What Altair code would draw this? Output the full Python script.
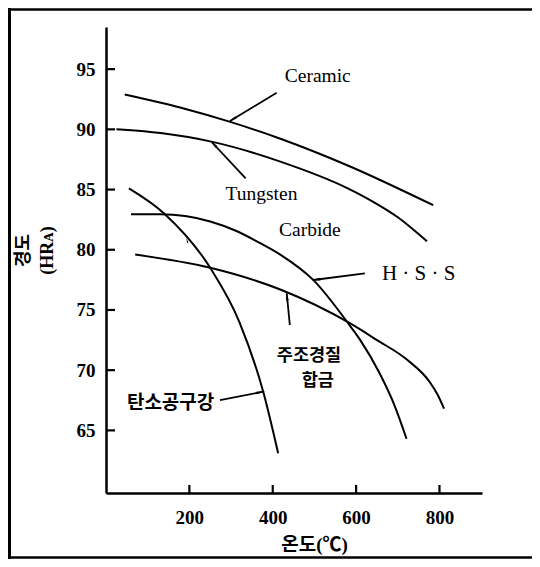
import math
import altair as alt
import pandas as pd

# ---------------- data ----------------
temp_ticks = [200, 400, 600, 800]
hard_ticks = [65, 70, 75, 80, 85, 90, 95]

ceramic_t = [45, 180, 300, 420, 580, 785]
ceramic_h = [92.9, 91.8, 90.6, 89.2, 87.0, 83.7]

tungsten_t = [25, 140, 250, 420, 580, 640, 700, 770]
tungsten_h = [90.0, 89.65, 89.0, 87.3, 85.1, 84.0, 82.7, 80.7]

carbon_t = [55, 140, 250, 320, 378, 413]
carbon_h = [85.1, 83.0, 78.5, 74.0, 68.1, 63.1]

hss_t = [60, 130, 190, 250, 310, 370, 418, 497, 585, 610, 657, 693, 721]
hss_h = [82.95, 82.95, 82.8, 82.35, 81.6, 80.55, 79.6, 77.5, 73.7, 72.5, 69.7, 67.0, 64.3]

cast_t = [70, 250, 418, 585, 650, 721, 777, 795, 811]
cast_h = [79.6, 78.5, 76.7, 73.9, 72.5, 70.9, 69.0, 68.0, 66.8]

# annotation labels
eng_labels = ["Ceramic", "Tungsten", "Carbide"]
eng_t = [508, 373, 489]
eng_h = [94.4, 84.6, 81.6]

hss_label = ["H · S · S"]
hss_label_t = [750]
hss_label_h = [78.0]

kor_labels = ["주조경질", "합금"]
kor_t = [487, 508]
kor_h = [71.2, 69.1]

carbon_label = ["탄소공구강"]
carbon_label_t = [155]
carbon_label_h = [67.3]

# arrows (tail -> tip)
arrow_tail_t = [409.5, 335, 621, 441, 273.5]
arrow_tail_h = [93.04, 85.93, 78.04, 73.75, 67.52]
arrow_tip_t = [297.5, 253.6, 497.3, 433.5, 377.4]
arrow_tip_h = [90.7, 88.95, 77.49, 76.38, 68.21]

# stray mark near the carbon-steel curve
mark_t = [195]
mark_h = [80.7]

# ---------------- layout ----------------
X_DOM = [0, 902]
Y_DOM = [59.8, 98.5]
W, H = 376, 466
sx = W / (X_DOM[1] - X_DOM[0])
sy = H / (Y_DOM[1] - Y_DOM[0])

SERIF = "'Liberation Serif', 'Times New Roman', serif"
KOR = "'Noto Sans CJK KR', sans-serif"
MIXED = "'Liberation Serif', 'Noto Sans CJK KR', serif"

rows = []
for name, ts, hs in [("Ceramic", ceramic_t, ceramic_h), ("Tungsten", tungsten_t, tungsten_h),
                     ("Carbon", carbon_t, carbon_h), ("HSS", hss_t, hss_h), ("Cast", cast_t, cast_h)]:
    for i, (t, h) in enumerate(zip(ts, hs)):
        rows.append({"series": name, "T": t, "H": h, "o": i})
curves = pd.DataFrame(rows)

arrows = pd.DataFrame({"T": arrow_tail_t, "H": arrow_tail_h, "T2": arrow_tip_t, "H2": arrow_tip_h})
heads = []
for t0, h0, t1, h1 in zip(arrow_tail_t, arrow_tail_h, arrow_tip_t, arrow_tip_h):
    dxp = (t1 - t0) * sx
    dyp = (h1 - h0) * sy
    ln = math.hypot(dxp, dyp)
    ang = math.degrees(math.atan2(dxp, dyp)) % 360
    back = 4.0
    heads.append({"T": t1 - dxp / ln * back / sx, "H": h1 - dyp / ln * back / sy, "ang": ang})
heads = pd.DataFrame(heads)

xs = alt.Scale(domain=X_DOM, nice=False, zero=False)
ys = alt.Scale(domain=Y_DOM, nice=False, zero=False)

base_lines = alt.Chart(curves).mark_line(color="black", strokeWidth=2, interpolate="monotone").encode(
    x=alt.X("T:Q", scale=xs, axis=alt.Axis(
        values=temp_ticks, ticks=False, grid=False, labelFont=SERIF, labelFontSize=19,
        labelFontWeight="bold", labelPadding=15, title="온도(℃)", titleFont=MIXED,
        titleFontSize=19, titleFontWeight="bold", titleX=208, titleY=51, titleBaseline="middle")),
    y=alt.Y("H:Q", scale=ys, axis=alt.Axis(
        values=hard_ticks, ticks=False, grid=False, labelFont=SERIF, labelFontSize=19,
        labelFontWeight="bold", labelPadding=11, title=["경도", "(HRᴀ)"], titleFont=MIXED,
        titleFontSize=18, titleFontWeight="bold", titleAngle=270, titleX=-83, titleY=223,
        titleBaseline="middle", titleLineHeight=24)),
    detail="series:N",
    order="o:Q",
)

ytick_df = pd.DataFrame({"H": hard_ticks})
yticks = alt.Chart(ytick_df).mark_rule(color="black", strokeWidth=2.2).encode(
    y="H:Q", x=alt.value(0), x2=alt.value(9))
xtick_df = pd.DataFrame({"T": temp_ticks})
xticks = alt.Chart(xtick_df).mark_rule(color="black", strokeWidth=2.2).encode(
    x="T:Q", y=alt.value(H), y2=alt.value(H - 8))

arrow_lines = alt.Chart(arrows).mark_rule(color="black", strokeWidth=1.8).encode(
    x="T:Q", y="H:Q", x2="T2:Q", y2="H2:Q")
arrow_heads = alt.Chart(heads).mark_point(shape="wedge", filled=True, color="black", size=110, opacity=1).encode(
    x="T:Q", y="H:Q", angle=alt.Angle("ang:Q", scale=None))

stray = alt.Chart(pd.DataFrame({"T": mark_t, "H": mark_h})).mark_point(
    shape="wedge", filled=True, color="black", size=30, opacity=1, angle=340).encode(x="T:Q", y="H:Q")

eng = alt.Chart(pd.DataFrame({"T": eng_t, "H": eng_h, "txt": eng_labels})).mark_text(
    font=SERIF, fontSize=19.5, color="black", align="center", baseline="middle").encode(
    x="T:Q", y="H:Q", text="txt:N")
hss_txt = alt.Chart(pd.DataFrame({"T": hss_label_t, "H": hss_label_h, "txt": hss_label})).mark_text(
    font=SERIF, fontSize=21, color="black", align="center", baseline="middle").encode(
    x="T:Q", y="H:Q", text="txt:N")
kor = alt.Chart(pd.DataFrame({"T": kor_t, "H": kor_h, "txt": kor_labels})).mark_text(
    font=KOR, fontSize=17.5, fontWeight="bold", color="black", align="center", baseline="middle").encode(
    x="T:Q", y="H:Q", text="txt:N")
carb = alt.Chart(pd.DataFrame({"T": carbon_label_t, "H": carbon_label_h, "txt": carbon_label})).mark_text(
    font=KOR, fontSize=19, fontWeight="bold", color="black", align="center", baseline="middle").encode(
    x="T:Q", y="H:Q", text="txt:N")

one = pd.DataFrame({"a": [0]})
frame_left = alt.Chart(one).mark_rule(color="black", strokeWidth=3).encode(
    x=alt.value(-96.5), x2=alt.value(-96.5), y=alt.value(-19), y2=alt.value(532))
frame_top = alt.Chart(one).mark_rule(color="black", strokeWidth=2.5).encode(
    x=alt.value(-98), x2=alt.value(426), y=alt.value(-17.5), y2=alt.value(-17.5))
frame_bot = alt.Chart(one).mark_rule(color="black", strokeWidth=2.5).encode(
    x=alt.value(-98), x2=alt.value(426), y=alt.value(530.5), y2=alt.value(530.5))

chart = alt.layer(
    base_lines, yticks, xticks, arrow_lines, arrow_heads, stray, eng, hss_txt, kor, carb,
    frame_left, frame_top, frame_bot,
).properties(
    width=W, height=H,
    autosize=alt.AutoSizeParams(type="none"),
    padding={"left": 98, "top": 19, "right": 50, "bottom": 66},
    background="white",
).configure_view(stroke=None).configure_axis(
    domainColor="black", domainWidth=2.5, labelColor="black", titleColor="black")

chart.save("out.html", embed_options={"renderer": "svg", "actions": False})
